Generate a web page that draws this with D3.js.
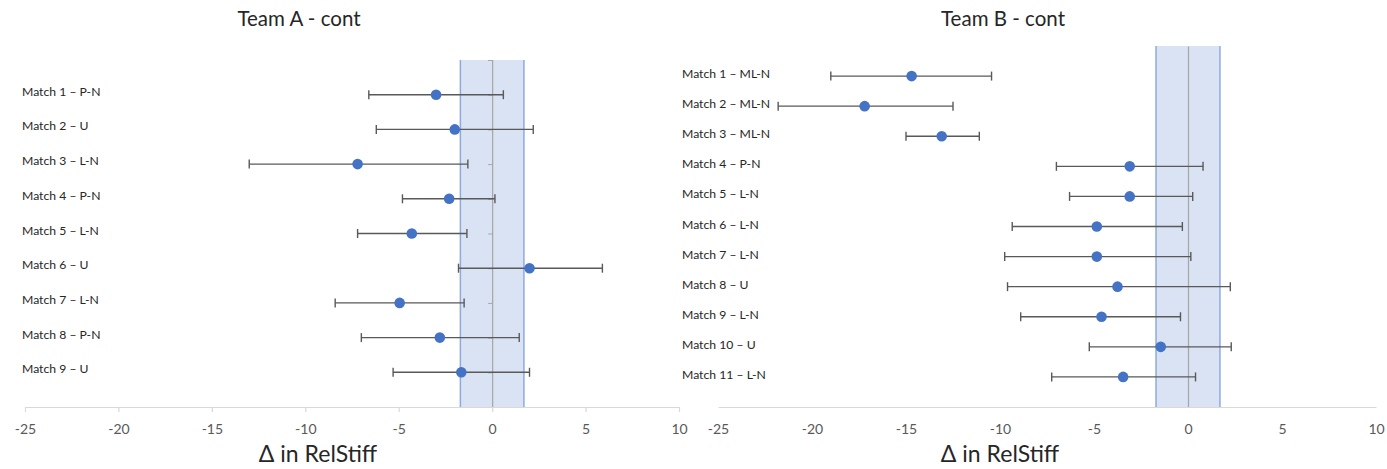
<!DOCTYPE html>
<html><head><meta charset="utf-8">
<script src="https://cdn.jsdelivr.net/npm/d3@7"></script>
<style>body{margin:0;background:#fff;}svg{display:block;}</style>
</head><body>
<svg id="c" width="1387" height="469"></svg>
<script>
// ---- data ----
const xTicks = [-25, -20, -15, -10, -5, 0, 5, 10];
const bandHalfWidth = 1.7;

const teamALabels = ["Match 1 – P-N","Match 2 – U","Match 3 – L-N","Match 4 – P-N","Match 5 – L-N","Match 6 – U","Match 7 – L-N","Match 8 – P-N","Match 9 – U"];
const teamAMean  = [-3.0, -2.0, -7.2, -2.3, -4.3, 2.0, -4.95, -2.8, -1.65];
const teamALow   = [-6.6, -6.2, -13.0, -4.8, -7.2, -1.8, -8.4, -7.0, -5.3];
const teamAHigh  = [0.6, 2.2, -1.3, 0.15, -1.35, 5.9, -1.5, 1.45, 2.0];

const teamBLabels = ["Match 1 – ML-N","Match 2 – ML-N","Match 3 – ML-N","Match 4 – P-N","Match 5 – L-N","Match 6 – L-N","Match 7 – L-N","Match 8 – U","Match 9 – L-N","Match 10 – U","Match 11 – L-N"];
const teamBMean  = [-14.7, -17.2, -13.1, -3.1, -3.1, -4.85, -4.85, -3.75, -4.6, -1.45, -3.45];
const teamBLow   = [-19.0, -21.8, -15.0, -7.0, -6.3, -9.35, -9.75, -9.6, -8.9, -5.25, -7.25];
const teamBHigh  = [-10.45, -12.5, -11.1, 0.8, 0.25, -0.3, 0.15, 2.25, -0.4, 2.3, 0.4];

const FONT = "Lato, 'Open Sans', sans-serif";
const svg = d3.select("#c");

function drawPanel(cfg){
  const n = cfg.labels.length;
  const x = d3.scaleLinear().domain([-25, 10]).range([cfg.x0, cfg.x1]);
  const y = d3.scaleLinear().domain([0, cfg.yMax]).range([cfg.yBottom, cfg.yTop]);
  const g = svg.append("g");

  // band
  g.append("rect")
    .attr("x", x(-bandHalfWidth)).attr("y", y(cfg.yMax))
    .attr("width", x(bandHalfWidth) - x(-bandHalfWidth))
    .attr("height", y(0) - y(cfg.yMax))
    .attr("fill", "#dae3f3");
  [-bandHalfWidth, bandHalfWidth].forEach(v => {
    g.append("line").attr("x1", x(v)).attr("x2", x(v))
      .attr("y1", y(cfg.yMax)).attr("y2", y(0))
      .attr("stroke", "#8faadc").attr("stroke-width", 1.5);
  });

  // y axis at zero
  const yAx = g.append("g").attr("transform", `translate(${x(0)},0)`)
    .call(d3.axisLeft(y).tickValues(cfg.yTickVals).tickSize(cfg.yTickSize).tickFormat(""));
  yAx.select(".domain").attr("stroke", "#a6a6a6").attr("stroke-width", 1.2);
  yAx.selectAll(".tick line").attr("stroke", "#a6a6a6");

  // x axis
  const xAx = g.append("g").attr("transform", `translate(0,${y(0)})`)
    .call(d3.axisBottom(x).tickValues(xTicks).tickSize(cfg.xTickSize).tickSizeOuter(0).tickPadding(cfg.xTickSize ? 12 : 17)
      .tickFormat(d => String(d)));
  xAx.select(".domain").attr("stroke", "#d9d9d9").attr("stroke-width", 1.2);
  xAx.selectAll(".tick line").attr("stroke", "#d9d9d9").attr("stroke-width", 1.2);
  xAx.selectAll(".tick text").attr("fill", "#595959").attr("font-family", FONT).attr("font-size", 14);

  // error bars
  const rows = d3.range(n).map(i => ({i, yv: n - i, m: cfg.mean[i], lo: cfg.low[i], hi: cfg.high[i], label: cfg.labels[i]}));
  const eb = g.append("g").attr("stroke", "#595959").attr("stroke-width", 1.4);
  rows.forEach(r => {
    eb.append("line").attr("x1", x(r.lo)).attr("x2", x(r.hi)).attr("y1", y(r.yv)).attr("y2", y(r.yv));
    [r.lo, r.hi].forEach(v => eb.append("line").attr("x1", x(v)).attr("x2", x(v)).attr("y1", y(r.yv) - 4.5).attr("y2", y(r.yv) + 4.5));
  });
  g.append("g").selectAll("circle").data(rows).join("circle")
    .attr("cx", d => x(d.m)).attr("cy", d => y(d.yv)).attr("r", 5.3).attr("fill", "#4472c4");

  // labels
  g.append("g").selectAll("text").data(rows).join("text")
    .attr("x", cfg.labelX).attr("y", d => y(d.yv) + cfg.labelDy)
    .attr("font-family", FONT).attr("font-size", 12.2).attr("fill", "#262626")
    .text(d => d.label);

  // title
  svg.append("text").attr("x", cfg.titleX).attr("y", 26).attr("text-anchor", "middle")
    .attr("font-family", FONT).attr("font-size", 20.5).attr("fill", "#262626").text(cfg.title);
  svg.append("text").attr("x", cfg.axisTitleX).attr("y", 462).attr("text-anchor", "middle")
    .attr("font-family", FONT).attr("font-size", 23).attr("fill", "#262626").text("Δ in RelStiff");
}

drawPanel({labels: teamALabels, mean: teamAMean, low: teamALow, high: teamAHigh,
  x0: 25, x1: 679, yMax: 10, yTop: 60, yBottom: 407, yTickVals: d3.range(0, 11), yTickSize: 4, xTickSize: 5,
  labelX: 22, labelDy: 1, titleX: 299, axisTitleX: 318, title: "Team A - cont"});
drawPanel({labels: teamBLabels, mean: teamBMean, low: teamBLow, high: teamBHigh,
  x0: 718, x1: 1376, yMax: 12, yTop: 46, yBottom: 407, yTickVals: [], yTickSize: 0, xTickSize: 0,
  labelX: 682, labelDy: 2, titleX: 1003, axisTitleX: 1000, title: "Team B - cont"});
</script>
</body></html>
